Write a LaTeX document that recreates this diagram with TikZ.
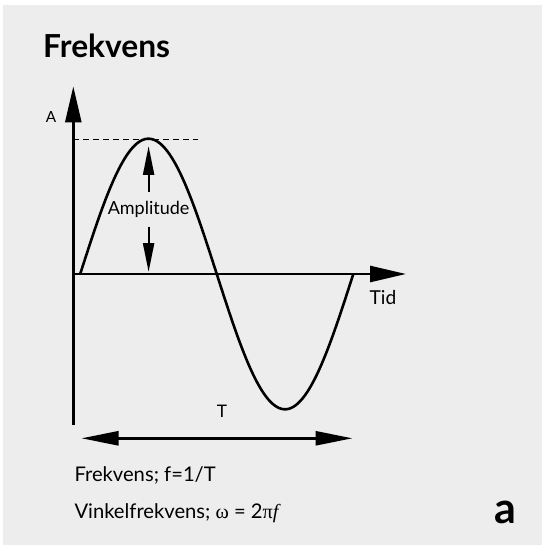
\documentclass[tikz,border=0pt]{standalone}
\usepackage{fontspec}
\setmainfont{Lato}
\newfontfamily\symfont{Liberation Serif}
\usetikzlibrary{arrows.meta}

\definecolor{panelgrey}{HTML}{EDEDED}

\begin{document}
\begin{tikzpicture}[x=1pt,y=-1pt,
		axis/.style={line width=2.6pt, -{Triangle[length=36pt,width=16pt]}},
		curve/.style={line width=2.6pt},
		amparrow/.style={line width=2.2pt, -{Triangle[length=29pt,width=11pt]}},
		period/.style={line width=2.6pt, {Triangle[length=37pt,width=14pt]}-{Triangle[length=37pt,width=14pt]}},
		lbl/.style={inner sep=0pt}]
			\useasboundingbox (0,0) rectangle (542,545);
			\fill[panelgrey](3,5) rectangle (542,545);
			\node[lbl, anchor=base west, font=\bfseries\fontsize{31.7}{36}\selectfont] (title) at (43,57.7) {Frekvens};
			\coordinate (o) at (73.3,274);
			\coordinate (ybot) at (73.3,424.5);
			\coordinate (ytop) at (73.3,86.4);
			\coordinate (xend) at (406,274);
			\draw[axis](ybot) -- (ytop);
			\draw[axis](o) -- (xend);
			\node[lbl, font=\fontsize{15.3}{18}\selectfont] (alabel) at (51,117.5) {A};
			\node[lbl, font=\fontsize{19.2}{22}\selectfont] (tid) at (383,297) {Tid};
			\coordinate (peakl) at (73.3,139.3);
			\coordinate (peakr) at (197.7,139.3);
			\draw[line width=1pt, dash pattern=on 6pt off 4pt](peakl) -- (peakr);
			\draw[curve] plot[domain=0:360, samples=120] ({80.2+\x/360*273.1},{274-135.3*sin(\x)});
			\node[lbl, minimum height=34pt, font=\fontsize{18}{21}\selectfont] (amp) at (148.6,209.3) {Amplitude};
			\coordinate (peak) at (148.6,146);
			\coordinate (base) at (148.6,272);
			\draw[amparrow](amp.north) -- (peak);
			\draw[amparrow](amp.south) -- (base);
			\node[lbl, font=\fontsize{17.3}{20}\selectfont] (tlabel) at (222,411) {T};
			\coordinate (tl) at (81.5,438.3);
			\coordinate (tr) at (352.5,438.3);
			\draw[period](tl) -- (tr);
			\node[lbl, anchor=base west, font=\fontsize{20.2}{24}\selectfont] (freq) at (74.3,481) {Frekvens; f=1/T};
			\node[lbl, anchor=base west, font=\fontsize{20.2}{24}\selectfont] (angfreq) at (74.3,518) {Vinkelfrekvens; {\symfont ω} = 2{\symfont π\textit{f}}};
			\node[lbl, anchor=base, font=\bfseries\fontsize{43}{48}\selectfont] (panel) at (505.3,523.7) {a};
		\end{tikzpicture}
\end{document}
